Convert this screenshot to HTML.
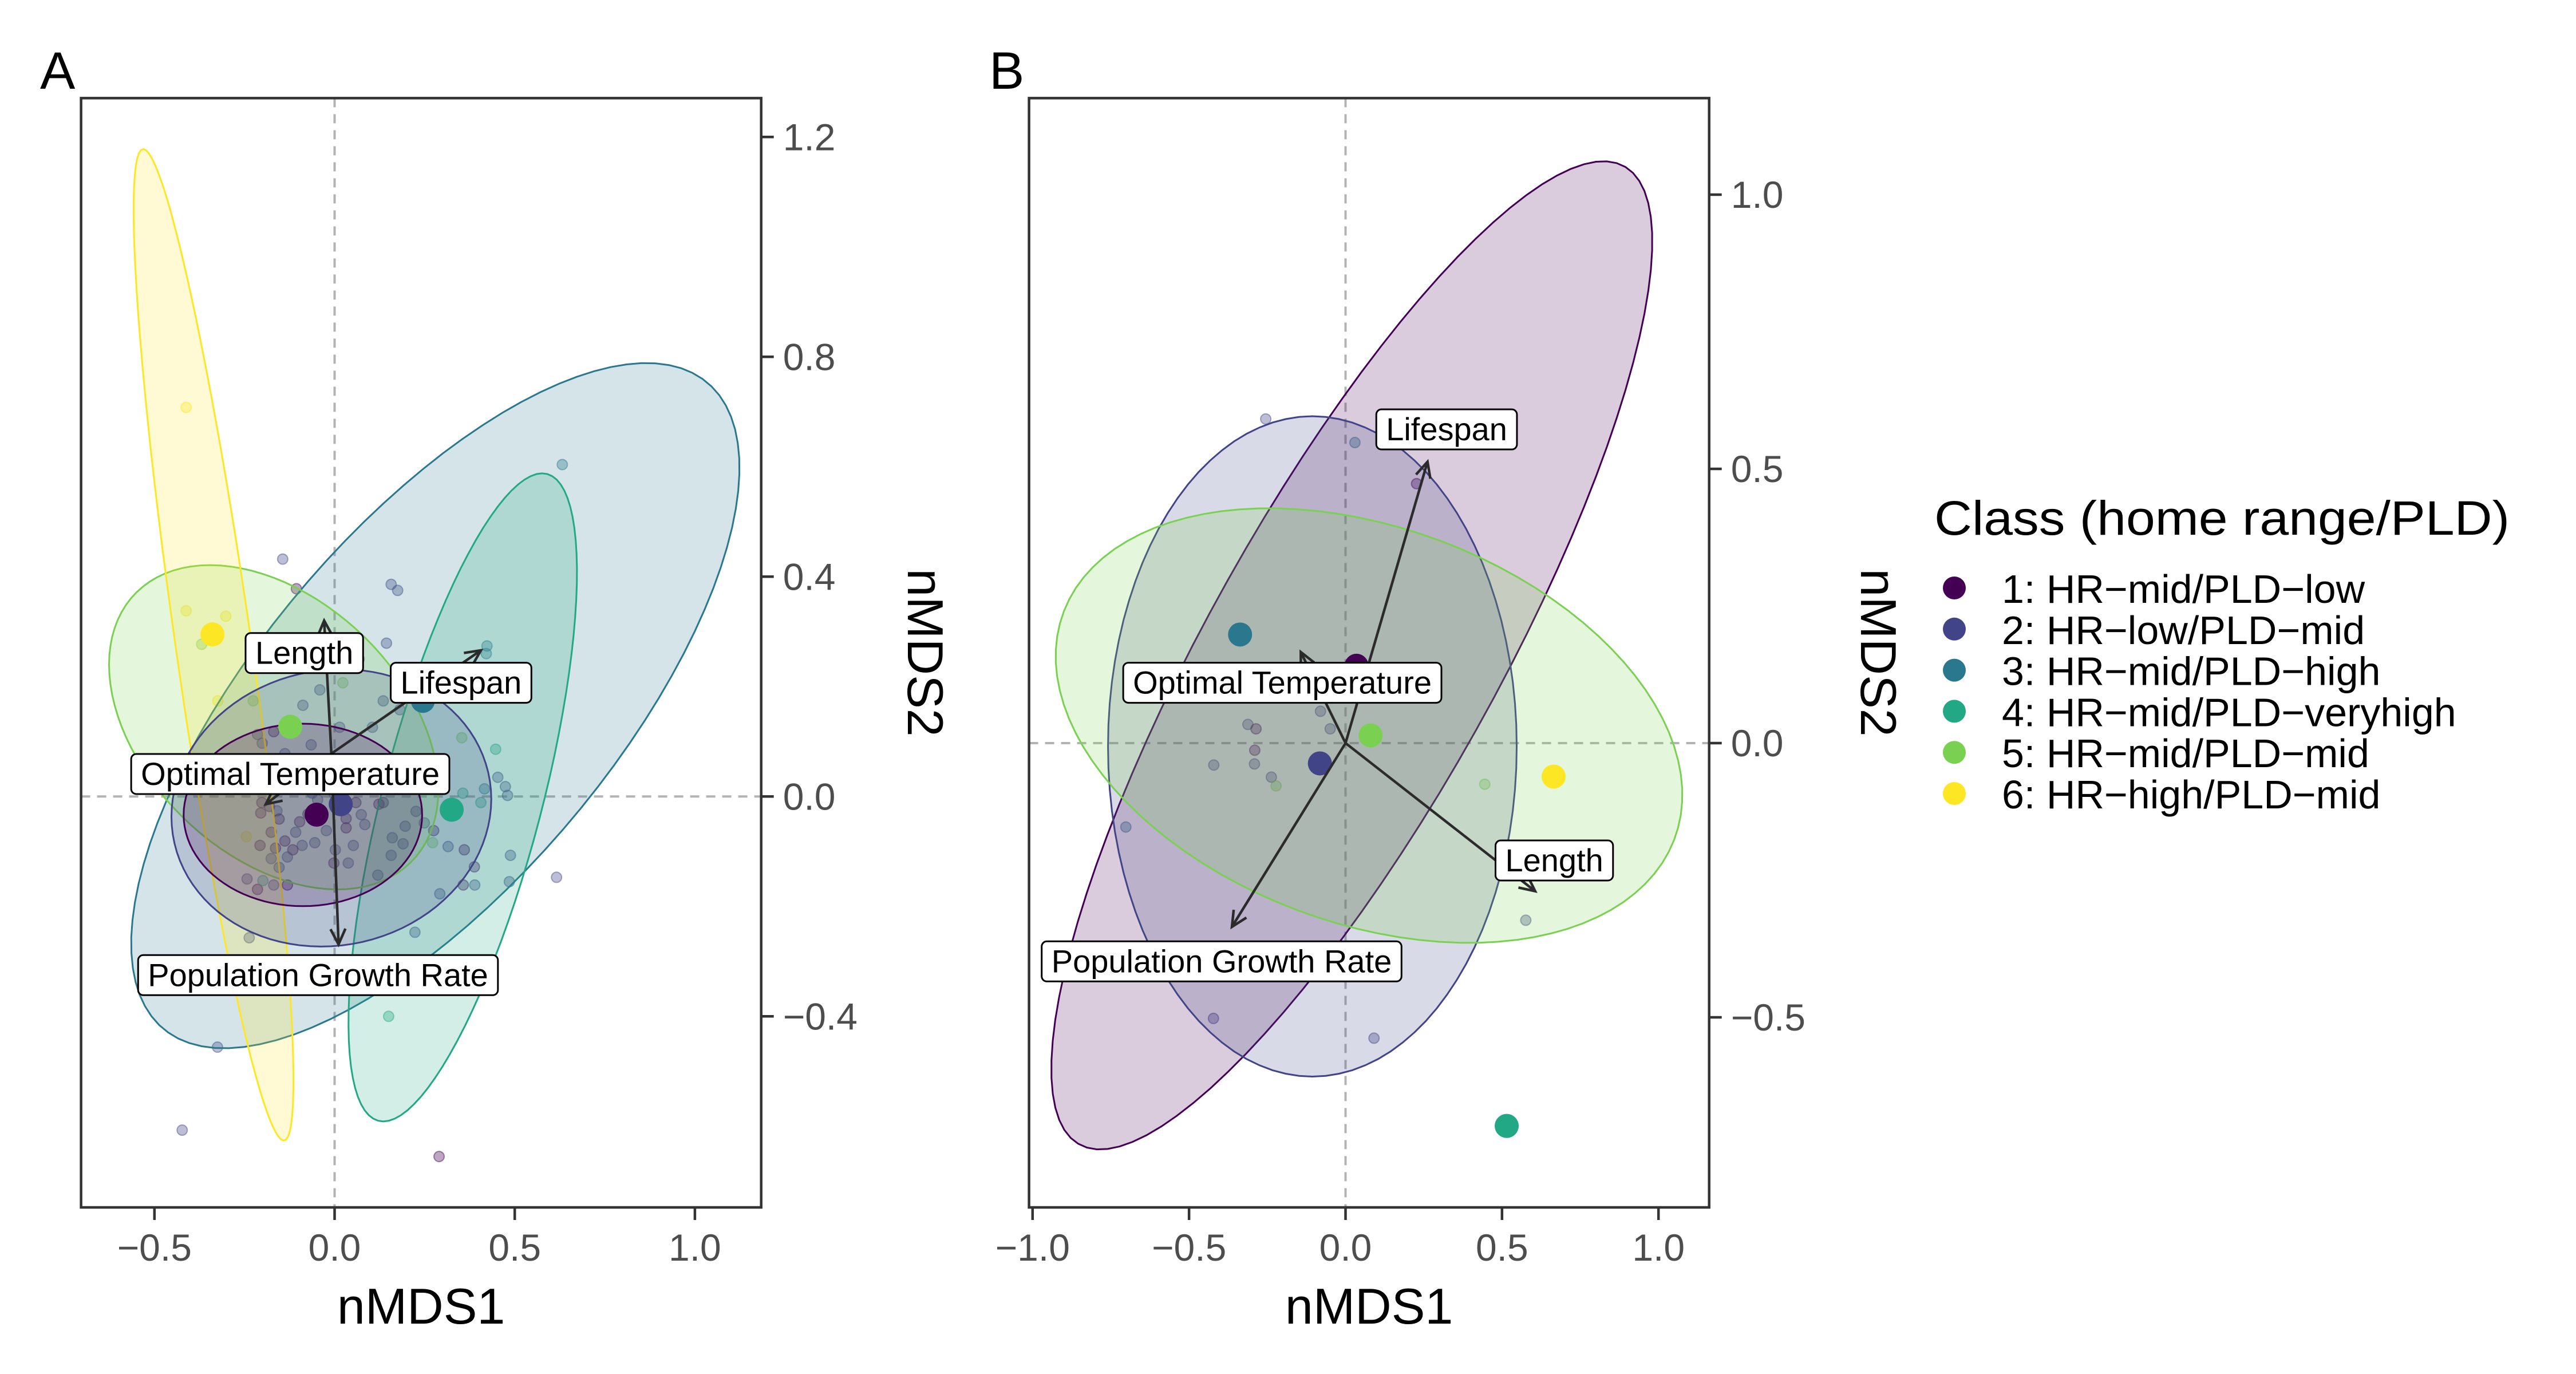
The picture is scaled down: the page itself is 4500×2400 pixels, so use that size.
<!DOCTYPE html>
<html><head><meta charset="utf-8"><style>
html,body{margin:0;padding:0;background:#fff}
svg{display:block}
text{font-family:"Liberation Sans",Arial,sans-serif}
</style></head><body>
<svg id="chart" width="4500" height="2400" viewBox="0 0 4500 2400" xmlns="http://www.w3.org/2000/svg"></svg>
<script>
const classColors=["#440154","#414487","#2A788E","#22A884","#7AD151","#FDE725"];
const classLabels=["1: HR\u2212mid/PLD\u2212low","2: HR\u2212low/PLD\u2212mid","3: HR\u2212mid/PLD\u2212high","4: HR\u2212mid/PLD\u2212veryhigh","5: HR\u2212mid/PLD\u2212mid","6: HR\u2212high/PLD\u2212mid"];
// Panel A data
const aXTicks=[-0.5,0.0,0.5,1.0];
const aXTickLabels=["\u22120.5","0.0","0.5","1.0"];
const aYTicks=[1.2,0.8,0.4,0.0,-0.4];
const aYTickLabels=["1.2","0.8","0.4","0.0","\u22120.4"];
const aEllClass=[2,3,4,5,1,0];
const aEllCenter=[[0.2796,0.1653],[0.3556,-0.0016],[-0.169,0.126],[-0.336,0.276],[-0.009,-0.0207],[-0.088,-0.0335]];
const aEllU=[[0.8207,0.5259],[0.2204,0.5896],[0.456,-0.096],[0.195,-0.902],[0.4438,0.016],[0.331,0]];
const aEllV=[[0.1976,-0.3347],[0.228,0],[-0.030,0.279],[0.106,0],[0,-0.2518],[0,-0.166]];
const aPtX=[-0.144,-0.106,0.157,0.175,0.144,0.068,-0.041,-0.088,-0.412,-0.412,-0.302,-0.369,-0.324,-0.226,0.023,0.423,0.421,0.353,0.447,0.453,0.474,0.480,0.416,0.406,0.356,0.632,0.616,0.488,0.485,0.388,0.389,0.357,0.360,0.315,0.272,0.275,0.249,0.226,0.196,0.190,0.160,0.157,0.120,0.084,0.074,0.059,0.032,0.032,0.052,0.038,0.002,-0.002,-0.023,-0.055,-0.090,-0.108,-0.116,-0.138,-0.164,-0.176,-0.207,-0.176,-0.205,-0.202,-0.181,-0.160,-0.154,-0.131,-0.154,-0.131,-0.169,-0.214,-0.243,-0.199,-0.245,-0.237,0.150,-0.325,-0.423,0.290,0.223,0.292,0.123,0.135,-0.108,-0.065,-0.190,-0.138,-0.201,-0.214,-0.169,-0.062,-0.032,0.074,-0.002,-0.097,-0.074,-0.047,0.135,0.181,0.105,0.014,0.074];
const aPtY=[0.432,0.378,0.386,0.375,0.279,0.250,0.194,0.166,0.708,0.338,0.328,0.277,0.174,0.174,0.207,0.274,0.260,0.107,0.086,0.035,0.018,0.002,0.014,-0.011,0.006,0.604,-0.147,-0.107,-0.155,-0.128,-0.161,-0.161,-0.097,-0.091,-0.084,-0.062,-0.048,-0.027,-0.054,-0.086,-0.075,-0.107,-0.143,-0.051,-0.033,-0.011,-0.040,-0.057,-0.089,-0.121,-0.097,-0.121,-0.062,-0.084,-0.089,-0.065,-0.097,-0.081,-0.094,-0.113,-0.089,-0.065,-0.030,-0.011,-0.018,-0.026,-0.041,-0.110,-0.129,-0.161,-0.161,-0.169,-0.150,-0.153,-0.073,-0.257,-0.400,-0.456,-0.607,-0.655,-0.247,-0.177,-0.014,-0.011,0.062,0.094,0.054,0.078,0.097,0.113,0.118,0.006,0.014,0.062,0.006,-0.046,-0.032,-0.006,0.174,0.158,0.126,0.126,0.030];
const aPtC=[1,0,1,1,1,1,1,1,5,5,5,4,5,4,4,2,2,4,3,1,1,1,2,3,3,2,1,1,1,0,1,0,0,1,4,0,1,1,1,1,1,1,1,1,1,0,0,0,1,1,1,0,1,1,1,1,0,0,0,1,0,0,0,0,0,1,0,1,1,0,1,0,1,3,5,1,3,1,1,0,1,1,0,0,1,1,1,1,1,1,0,1,2,1,1,0,0,1,1,1,1,1,1];
const aCentX=[-0.050,0.017,0.245,0.325,-0.123,-0.339];
const aCentY=[-0.033,-0.014,0.174,-0.024,0.127,0.295];
const aArrowOrigin=[-0.009,0.078];
const aArrowNames=["Length","Lifespan","Optimal Temperature","Population Growth Rate"];
const aArrowX=[-0.029,0.406,-0.191,0.011];
const aArrowY=[0.320,0.266,-0.014,-0.269];
const aLabelX=[-0.084,0.351,-0.123,-0.046];
const aLabelY=[0.261,0.207,0.041,-0.325];
// Panel B data
const bXTicks=[-1.0,-0.5,0.0,0.5,1.0];
const bXTickLabels=["\u22121.0","\u22120.5","0.0","0.5","1.0"];
const bYTicks=[1.0,0.5,0.0,-0.5];
const bYTickLabels=["1.0","0.5","0.0","\u22120.5"];
const bEllClass=[0,1,4];
const bEllCenter=[[0.020,0.160],[-0.106,-0.006],[0.075,0.032]];
const bEllU=[[0.780,0.900],[0,0.602],[0.988,-0.064]];
const bEllV=[[0.560,0.040],[0.653,0],[-0.162,0.391]];
const bPtX=[-0.255,0.030,0.227,-0.312,-0.286,-0.080,-0.049,-0.290,-0.421,-0.291,-0.237,-0.222,0.445,-0.702,0.576,-0.422,0.091];
const bPtY=[0.591,0.548,0.473,0.034,0.026,0.058,0.026,-0.013,-0.040,-0.038,-0.062,-0.078,-0.075,-0.153,-0.323,-0.502,-0.538];
const bPtC=[1,2,0,1,0,1,1,0,1,1,1,4,4,2,1,1,1];
const bCentX=[0.035,-0.082,-0.337,0.515,0.080,0.665];
const bCentY=[0.141,-0.037,0.198,-0.698,0.014,-0.061];
const bArrowOrigin=[0,0];
const bArrowNames=["Lifespan","Optimal Temperature","Length","Population Growth Rate"];
const bArrowX=[0.262,-0.143,0.606,-0.363];
const bArrowY=[0.513,0.166,-0.270,-0.335];
const bLabelX=[0.323,-0.202,0.667,-0.396];
const bLabelY=[0.572,0.110,-0.214,-0.398];

const NS="http://www.w3.org/2000/svg";
const svg=document.getElementById("chart");
function el(tag,attrs,parent){const e=document.createElementNS(NS,tag);for(const k in attrs)e.setAttribute(k,attrs[k]);(parent||svg).appendChild(e);return e;}

function panel(cfg){
  const g=el("g",{});
  
  
  const sx=v=>cfg.x0+v*cfg.kx, sy=v=>cfg.y0-v*cfg.ky;
  const clipId=cfg.name+"-clip";
  const defs=el("defs",{},g);
  const cp=el("clipPath",{id:clipId},defs);
  el("rect",{x:cfg.L,y:cfg.T,width:cfg.R-cfg.L,height:cfg.B-cfg.T},cp);
  const plot=el("g",{"clip-path":"url(#"+clipId+")"},g);
  const vline=el("line",{x1:sx(0),x2:sx(0),y1:cfg.T,y2:cfg.B,stroke:"#b3b3b3","stroke-width":4,"stroke-dasharray":"16 12"},plot);
  
  
  const hline=el("line",{x1:cfg.L,x2:cfg.R,y1:sy(0),y2:sy(0),stroke:"#b3b3b3","stroke-width":4,"stroke-dasharray":"16 12"},plot);
  
  
  for(let i=0;i<cfg.px.length;i++){
    const c=classColors[cfg.pc[i]];
    const p=el("circle",{cx:sx(cfg.px[i]),cy:sy(cfg.py[i]),r:9,fill:c,"fill-opacity":0.35,stroke:c,"stroke-opacity":0.45,"stroke-width":2},plot);
    
    
  }
  for(let i=0;i<cfg.ec.length;i++){
    const c=cfg.ecen[i],u=cfg.eu[i],v=cfg.ev[i];let d="";
    for(let k=0;k<=96;k++){const t=k/96*2*Math.PI;
      const X=sx(c[0]+u[0]*Math.cos(t)+v[0]*Math.sin(t)),Y=sy(c[1]+u[1]*Math.cos(t)+v[1]*Math.sin(t));
      d+=(k?"L":"M")+X.toFixed(1)+","+Y.toFixed(1);}
    const col=classColors[cfg.ec[i]];
    const e=el("path",{d:d+"Z",fill:col,"fill-opacity":0.2,stroke:col,"stroke-width":3},plot);
    
    
  }
  for(let i=0;i<cfg.cx.length;i++){
    const p=el("circle",{cx:sx(cfg.cx[i]),cy:sy(cfg.cy[i]),r:21,fill:classColors[i]},plot);
    
    
  }
  const ox=sx(cfg.ao[0]),oy=sy(cfg.ao[1]);
  for(let i=0;i<cfg.ax.length;i++){
    const tx=sx(cfg.ax[i]),ty=sy(cfg.ay[i]);
    const a=el("g",{},plot);
    
    
    el("line",{x1:ox,y1:oy,x2:tx,y2:ty,stroke:"#2b2b2b","stroke-width":4.5},a);
    const ang=Math.atan2(ty-oy,tx-ox),h=30,s=0.45;
    const p1=[tx-h*Math.cos(ang-s),ty-h*Math.sin(ang-s)],p2=[tx-h*Math.cos(ang+s),ty-h*Math.sin(ang+s)];
    el("polyline",{points:p1.join(",")+" "+tx+","+ty+" "+p2.join(","),fill:"none",stroke:"#2b2b2b","stroke-width":4.5},a);
  }
  for(let i=0;i<cfg.lx.length;i++){
    const cx=sx(cfg.lx[i]),cy=sy(cfg.ly[i]);
    const lg=el("g",{},plot);
    
    
    const t=el("text",{x:cx,y:cy+19,"font-size":56,"text-anchor":"middle",fill:"#000"},lg);
    t.textContent=cfg.an[i];
    const w=t.getComputedTextLength()+34;
    const r=el("rect",{x:cx-w/2,y:cy-35,width:w,height:70,rx:9,fill:"#fff",stroke:"#000","stroke-width":3},lg);
    lg.insertBefore(r,t);
  }
  const fr=el("rect",{x:cfg.L,y:cfg.T,width:cfg.R-cfg.L,height:cfg.B-cfg.T,fill:"none",stroke:"#333","stroke-width":4.5},g);
  
  
  cfg.xt.forEach((v,i)=>{
    const X=sx(v);
    el("line",{x1:X,x2:X,y1:cfg.B,y2:cfg.B+22,stroke:"#333","stroke-width":4.5},g);
    const t=el("text",{x:X,y:cfg.B+93,"font-size":66,"text-anchor":"middle",fill:"#4d4d4d"},g);
    t.textContent=cfg.xtl[i];
    
    
  });
  cfg.yt.forEach((v,i)=>{
    const Y=sy(v);
    el("line",{x1:cfg.R,x2:cfg.R+22,y1:Y,y2:Y,stroke:"#333","stroke-width":4.5},g);
    const t=el("text",{x:cfg.R+38,y:Y+23,"font-size":66,fill:"#4d4d4d"},g);
    t.textContent=cfg.ytl[i];
    
    
  });
  const xt=el("text",{x:(cfg.L+cfg.R)/2,y:2312,"font-size":88,"text-anchor":"middle",fill:"#000"},g);
  xt.textContent="nMDS1";
  
  
  const yt=el("text",{x:0,y:0,"font-size":88,"text-anchor":"middle",fill:"#000",transform:"translate("+cfg.ytx+",1140) rotate(90)"},g);
  yt.textContent="nMDS2";
  
  
  const pl=el("text",{x:cfg.lettX,y:155,"font-size":92,fill:"#000"},g);
  pl.textContent=cfg.letter;
  
  
}

panel({name:"panel-a",letter:"A",lettX:70,L:141.6,R:1329.7,T:171.4,B:2109,x0:584.5,kx:629.4,y0:1391.3,ky:960,
  xt:aXTicks,xtl:aXTickLabels,yt:aYTicks,ytl:aYTickLabels,ytx:1586,
  ec:aEllClass,ecen:aEllCenter,eu:aEllU,ev:aEllV,px:aPtX,py:aPtY,pc:aPtC,cx:aCentX,cy:aCentY,
  ao:aArrowOrigin,an:aArrowNames,ax:aArrowX,ay:aArrowY,lx:aLabelX,ly:aLabelY});
panel({name:"panel-b",letter:"B",lettX:1728,L:1797.6,R:2985.7,T:171.4,B:2109,x0:2350.5,kx:546.7,y0:1298,ky:958,
  xt:bXTicks,xtl:bXTickLabels,yt:bYTicks,ytl:bYTickLabels,ytx:3251,
  ec:bEllClass,ecen:bEllCenter,eu:bEllU,ev:bEllV,px:bPtX,py:bPtY,pc:bPtC,cx:bCentX,cy:bCentY,
  ao:bArrowOrigin,an:bArrowNames,ax:bArrowX,ay:bArrowY,lx:bLabelX,ly:bLabelY});

const lg=el("g",{});


const lt=el("text",{x:3379,y:934,"font-size":84,fill:"#000",textLength:1005,lengthAdjust:"spacingAndGlyphs"},lg);
lt.textContent="Class (home range/PLD)";


classLabels.forEach((s,i)=>{
  const y=1053+i*71.8;
  const it=el("g",{},lg);
  
  
  el("circle",{cx:3414,cy:y-26,r:20,fill:classColors[i]},it);
  const t=el("text",{x:3497,y:y,"font-size":70,fill:"#000"},it);
  t.textContent=s;
});
</script>
</body></html>
